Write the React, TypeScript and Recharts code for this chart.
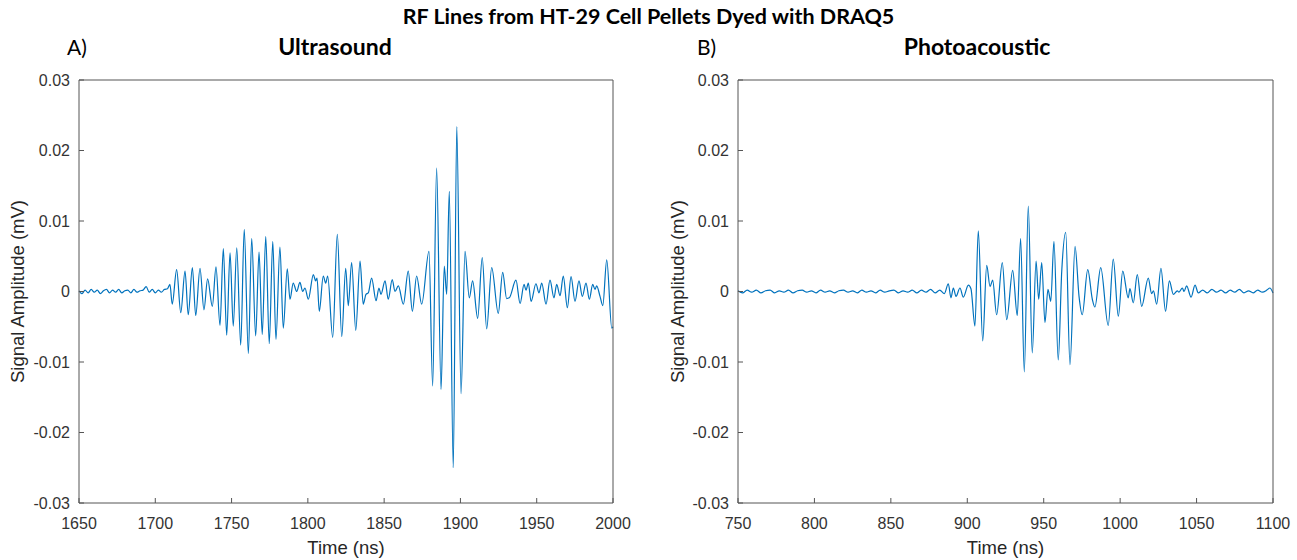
import React from 'react';
import { LineChart, Line, XAxis, YAxis } from 'recharts';

// [time (ns), amplitude (mV)], extrema + a few shoulder points
const ultrasoundTrace: [number, number][] = [
  [1650, 0.0001], [1652, -0.0003], [1654, 0.0002], [1656, -0.0002], [1658, 0.0003], [1660, -0.0001],
  [1662, 0.0002], [1664, -0.0003], [1666, 0.0001], [1668, 0.0003], [1670, -0.0002], [1672, 0.0002],
  [1674, -0.0001], [1676, 0.0003], [1678, -0.0002], [1680, 0.0001], [1682, 0.0002], [1684, -0.0002],
  [1686, 0.0003], [1688, -0.0001], [1690, 0.0001], [1692, 0.0002], [1694, 0.0007], [1696, -0.0001],
  [1698, 0.0003], [1700, -0.0002], [1702, 0.0002], [1704, -0.0001], [1706, 0.0003], [1708, 0.0004],
  [1709.6, 0.001], [1711.1, -0.0018], [1714.0, 0.0031], [1716.7, -0.003], [1719.5, 0.0029],
  [1721.6, -0.0033], [1724.3, 0.0034], [1726.5, -0.0034], [1729.3, 0.0033], [1731.9, -0.0026],
  [1734.3, 0.0018], [1737.4, -0.0021], [1739.8, 0.0035], [1742.4, -0.0048], [1744.6, 0.0061],
  [1746.8, -0.0062], [1749.0, 0.0055], [1751.1, -0.0049], [1753.4, 0.0062], [1756.0, -0.0076],
  [1758.3, 0.0088], [1761.0, -0.0088], [1763.2, 0.0075], [1765.8, -0.0063], [1768.0, 0.0056],
  [1770.1, -0.0061], [1772.4, 0.0078], [1774.7, -0.0074], [1777.0, 0.0071], [1779.1, -0.0068],
  [1781.7, 0.0063], [1783.9, -0.0052], [1786.5, 0.0032], [1788.3, -0.0011], [1790.4, 0.0012],
  [1792.7, 0.0], [1794.8, 0.0013], [1796.6, 0.0], [1798.1, 0.0005], [1800.3, -0.0011],
  [1803.6, 0.0024], [1805.1, 0.0015], [1806.0, 0.0019], [1807.5, -0.0028], [1810.1, 0.0022],
  [1811.7, 0.0012], [1813.0, 0.0022], [1816.3, -0.0065], [1819.3, 0.0081], [1822.2, -0.0064],
  [1824.8, 0.0033], [1826.5, -0.002], [1828.7, 0.0041], [1831.4, -0.0055], [1834.2, 0.0043],
  [1836.3, -0.0018], [1838.1, -0.0004], [1839.6, -0.0002], [1841.8, 0.0019], [1844.7, -0.0013],
  [1846.6, 0.0005], [1847.9, -0.0004], [1850.6, 0.0015], [1852.7, -0.0011], [1855.3, 0.0017],
  [1857.1, 0.0], [1859.3, 0.0008], [1862.6, -0.0018], [1865.8, 0.0029], [1868.5, -0.0028],
  [1871.3, 0.0022], [1874.6, -0.0018], [1879.4, 0.0057], [1881.8, -0.0134], [1884.4, 0.0175],
  [1887.3, -0.0139], [1889.4, 0.0036], [1891.0, -0.0004], [1892.7, 0.0142], [1895.3, -0.025],
  [1897.6, 0.0234], [1900.4, -0.0145], [1903.0, 0.0057], [1905.8, -0.0009], [1908.0, 0.0015],
  [1911.3, -0.0038], [1914.3, 0.0048], [1917.2, -0.0053], [1920.5, 0.0034], [1924.8, -0.0031],
  [1927.7, 0.0027], [1930.3, -0.001], [1932.0, -0.0009], [1936.4, 0.0016], [1939.1, -0.0017],
  [1941.7, 0.001], [1943.0, 0.0002], [1944.5, 0.0012], [1946.3, -0.0014], [1949.5, 0.0011],
  [1951.5, -0.0002], [1953.3, 0.0012], [1956.1, -0.0018], [1958.7, 0.0016], [1961.3, -0.0009],
  [1963.1, 0.001], [1965.3, -0.0006], [1967.4, 0.0022], [1970.1, -0.0023], [1972.5, 0.0021],
  [1975.1, -0.0014], [1977.7, 0.0015], [1979.9, -0.0007], [1982.3, 0.0012], [1984.5, -0.0011],
  [1986.7, 0.001], [1988.2, 0.0003], [1989.3, 0.0008], [1991.5, -0.0007], [1993.3, -0.002],
  [1995.9, 0.0045], [1999.2, -0.0052], [2000, -0.005],
];

const photoacousticTrace: [number, number][] = [
  [750, 0.0001], [753, -0.0002], [756, 0.0002], [759, -0.0001], [762, 0.0002], [765, -0.0002],
  [768, 0.0001], [771, 0.0002], [774, -0.0002], [777, 0.0001], [780, -0.0001], [783, 0.0002],
  [786, -0.0002], [789, 0.0001], [792, 0.0002], [795, -0.0001], [798, 0.0001], [801, -0.0002],
  [804, 0.0002], [807, -0.0001], [810, 0.0001], [813, -0.0002], [816, 0.0001], [819, 0.0002],
  [822, -0.0001], [825, 0.0001], [828, -0.0002], [831, 0.0002], [834, -0.0001], [837, 0.0001],
  [840, -0.0002], [843, 0.0002], [846, -0.0001], [849, 0.0001], [852, 0.0002], [855, -0.0002],
  [858, 0.0001], [861, -0.0001], [864, 0.0002], [867, -0.0002], [870, 0.0002], [873, -0.0001],
  [876, 0.0003], [879, -0.0002], [882, 0.0002], [885, -0.0003],
  [887.6, 0.0011], [889.3, -0.0009], [890.9, 0.0005], [892.6, -0.0007], [895.2, 0.0005],
  [897.4, -0.0008], [900.7, 0.0009], [902.4, 0.0004], [905.0, -0.0049], [907.2, 0.0086],
  [910.1, -0.007], [912.7, 0.0037], [914.9, 0.0007], [916.6, 0.0016], [919.2, -0.0033],
  [922.9, 0.0041], [925.8, -0.004], [929.7, 0.003], [932.7, -0.0034], [934.9, 0.0075],
  [937.3, -0.0114], [939.9, 0.0121], [942.5, -0.0087], [945.0, 0.0043], [946.7, -0.0011],
  [948.7, 0.0041], [950.8, -0.0044], [952.8, 0.0003], [954.6, -0.0014], [956.7, 0.0071],
  [959.5, -0.0097], [961.8, 0.0029], [964.4, 0.0084], [967.2, -0.0104], [970.5, 0.0064],
  [973.1, -0.0007], [975.2, -0.0033], [978.8, 0.0031], [981.8, -0.0011], [983.5, -0.0022],
  [987.3, 0.0034], [992.2, -0.0048], [995.5, 0.0046], [998.8, -0.0035], [1001.7, 0.0029],
  [1005.3, -0.0009], [1006.4, 0.0004], [1008.6, -0.0016], [1011.2, 0.0024], [1014.1, -0.0021],
  [1018.4, 0.0019], [1020.6, -0.0003], [1021.8, 0.0001], [1023.9, -0.0018], [1026.7, 0.0033],
  [1029.7, -0.0028], [1032.2, 0.0015], [1034.8, -0.0004], [1037.4, 0.0001], [1038.5, -0.0001],
  [1040.7, 0.0005], [1041.8, 0.0], [1043.5, 0.0008], [1046.4, -0.0008], [1049.0, 0.0009],
  [1051.1, -0.0002], [1054, 0.0002], [1057, -0.0002], [1060, 0.0003], [1063, -0.0001],
  [1066, 0.0002], [1069, -0.0002], [1072, 0.0002], [1075, -0.0001], [1078, 0.0003],
  [1081, -0.0002], [1084, 0.0001], [1087, -0.0002], [1090, 0.0002], [1093, -0.0001],
  [1096, 0.0002], [1098, 0.0005], [1100, -0.0002],
];

const ultrasoundTicks = [1650, 1700, 1750, 1800, 1850, 1900, 1950, 2000];
const photoacousticTicks = [750, 800, 850, 900, 950, 1000, 1050, 1100];
const amplitudeTicks = [-0.03, -0.02, -0.01, 0, 0.01, 0.02, 0.03];
const amplitudeLabels = ['-0.03', '-0.02', '-0.01', '0', '0.01', '0.02', '0.03'];

const LINE_COLOR = '#0072BD';
const AXIS_COLOR = '#555555';
const ARIAL = '"Liberation Sans", Arial, sans-serif';
const TITLE_FONT = 'Lato, "Open Sans", sans-serif';
const tickStyle = { fontFamily: ARIAL, fontSize: 16, fill: '#333333' };
const axisLabelStyle = { fontFamily: ARIAL, fontSize: 18.5, fill: '#262626' };

interface RfPanelProps {
  trace: [number, number][];
  ticks: number[];
  width: number;
  yAxisWidth: number;
  rightMargin: number;
  yLabelOffset: number;
}

const RfPanel: React.FC<RfPanelProps> = ({ trace, ticks, width, yAxisWidth, rightMargin, yLabelOffset }) => {
  const data = trace.map(([t, v]) => ({ t, v }));
  const domain: [number, number] = [ticks[0], ticks[ticks.length - 1]];

  // top/right axes only draw the box edges and inward ticks (MATLAB "box on")
  return (
    <LineChart width={width} height={560} data={data} margin={{ top: 79, right: rightMargin, bottom: 0, left: 0 }}>
      <XAxis
        xAxisId="bottom"
        type="number"
        dataKey="t"
        domain={domain}
        ticks={ticks}
        height={57}
        tickSize={-5}
        tickMargin={20}
        stroke={AXIS_COLOR}
        tick={tickStyle}
        label={{ value: 'Time (ns)', position: 'insideBottom', offset: 6, ...axisLabelStyle }}
      />
      <XAxis
        xAxisId="top"
        orientation="top"
        type="number"
        dataKey="t"
        domain={domain}
        ticks={ticks}
        height={1}
        tickSize={-5}
        tick={false}
        stroke={AXIS_COLOR}
      />
      <YAxis
        yAxisId="left"
        type="number"
        domain={[-0.03, 0.03]}
        ticks={amplitudeTicks}
        width={yAxisWidth}
        tickSize={-5}
        tickMargin={14}
        stroke={AXIS_COLOR}
        tick={tickStyle}
        tickFormatter={(v: number) => amplitudeLabels[amplitudeTicks.indexOf(v)] ?? String(v)}
        label={{
          value: 'Signal Amplitude (mV)',
          angle: -90,
          position: 'insideLeft',
          offset: yLabelOffset,
          style: { textAnchor: 'middle' },
          ...axisLabelStyle,
        }}
      />
      <YAxis
        yAxisId="right"
        orientation="right"
        type="number"
        domain={[-0.03, 0.03]}
        ticks={amplitudeTicks}
        width={1}
        tickSize={-5}
        tick={false}
        stroke={AXIS_COLOR}
      />
      <Line
        xAxisId="bottom"
        yAxisId="left"
        type="monotone"
        dataKey="v"
        stroke={LINE_COLOR}
        strokeWidth={1.2}
        dot={false}
        isAnimationActive={false}
      />
    </LineChart>
  );
};

const textBase: React.CSSProperties = {
  position: 'absolute',
  fontFamily: TITLE_FONT,
  color: '#000',
  whiteSpace: 'nowrap',
  lineHeight: 1,
};

export default function App() {
  return (
    <div style={{ position: 'absolute', left: 0, top: 0, width: 1297, height: 560, background: '#fff', overflow: 'hidden' }}>
      <div style={{ position: 'absolute', left: 0, top: 0 }}>
        <RfPanel trace={ultrasoundTrace} ticks={ultrasoundTicks} width={648} yAxisWidth={79} rightMargin={34} yLabelOffset={17} />
      </div>
      <div style={{ position: 'absolute', left: 648, top: 0 }}>
        <RfPanel trace={photoacousticTrace} ticks={photoacousticTicks} width={649} yAxisWidth={90} rightMargin={23} yLabelOffset={29} />
      </div>

      <div style={{ ...textBase, left: 0, width: 1297, top: 6, textAlign: 'center', fontSize: 21.5, fontWeight: 700 }}>
        RF Lines from HT-29 Cell Pellets Dyed with DRAQ5
      </div>
      <div style={{ ...textBase, left: 67, top: 36, fontSize: 21 }}>A)</div>
      <div style={{ ...textBase, left: 235, width: 200, top: 35, textAlign: 'center', fontSize: 23, fontWeight: 700 }}>
        Ultrasound
      </div>
      <div style={{ ...textBase, left: 697, top: 36, fontSize: 21 }}>B)</div>
      <div style={{ ...textBase, left: 877, width: 200, top: 35, textAlign: 'center', fontSize: 23, fontWeight: 700 }}>
        Photoacoustic
      </div>
    </div>
  );
}
